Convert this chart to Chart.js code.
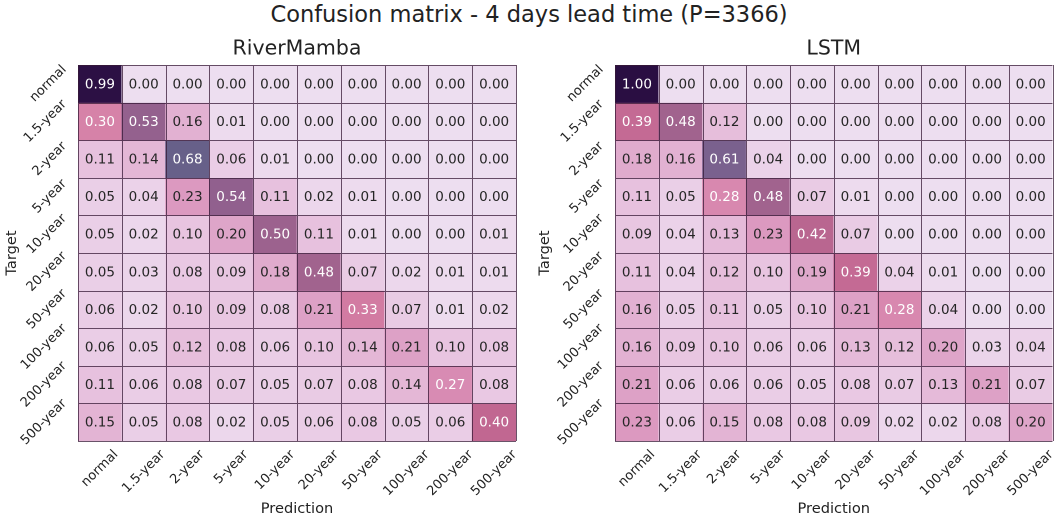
<!DOCTYPE html>
<html>
<head>
<meta charset="utf-8">
<script src="https://cdn.jsdelivr.net/npm/chart.js@4/dist/chart.umd.min.js"></script>
<style>
  html, body { margin: 0; padding: 0; background: #fff; }
  body { width: 1058px; height: 520px; position: relative; overflow: hidden; font-family: 'DejaVu Sans', sans-serif; }
  .suptitle { position: absolute; left: 0; top: 1px; width: 1058px; text-align: center; font-size: 22.5px; color: #222; }
  .panel { position: absolute; top: 0; width: 529px; height: 520px; }
</style>
</head>
<body>
<div class="suptitle">Confusion matrix - 4 days lead time (P=3366)</div>
<div class="panel" style="left:0"><canvas id="left"></canvas></div>
<div class="panel" style="left:529px"><canvas id="right"></canvas></div>
<script>
const classLabels = ['normal', '1.5-year', '2-year', '5-year', '10-year', '20-year', '50-year', '100-year', '200-year', '500-year'];

const riverMambaRows = [
  [0.99, 0.00, 0.00, 0.00, 0.00, 0.00, 0.00, 0.00, 0.00, 0.00],
  [0.30, 0.53, 0.16, 0.01, 0.00, 0.00, 0.00, 0.00, 0.00, 0.00],
  [0.11, 0.14, 0.68, 0.06, 0.01, 0.00, 0.00, 0.00, 0.00, 0.00],
  [0.05, 0.04, 0.23, 0.54, 0.11, 0.02, 0.01, 0.00, 0.00, 0.00],
  [0.05, 0.02, 0.10, 0.20, 0.50, 0.11, 0.01, 0.00, 0.00, 0.01],
  [0.05, 0.03, 0.08, 0.09, 0.18, 0.48, 0.07, 0.02, 0.01, 0.01],
  [0.06, 0.02, 0.10, 0.09, 0.08, 0.21, 0.33, 0.07, 0.01, 0.02],
  [0.06, 0.05, 0.12, 0.08, 0.06, 0.10, 0.14, 0.21, 0.10, 0.08],
  [0.11, 0.06, 0.08, 0.07, 0.05, 0.07, 0.08, 0.14, 0.27, 0.08],
  [0.15, 0.05, 0.08, 0.02, 0.05, 0.06, 0.08, 0.05, 0.06, 0.40]
];

const lstmRows = [
  [1.00, 0.00, 0.00, 0.00, 0.00, 0.00, 0.00, 0.00, 0.00, 0.00],
  [0.39, 0.48, 0.12, 0.00, 0.00, 0.00, 0.00, 0.00, 0.00, 0.00],
  [0.18, 0.16, 0.61, 0.04, 0.00, 0.00, 0.00, 0.00, 0.00, 0.00],
  [0.11, 0.05, 0.28, 0.48, 0.07, 0.01, 0.00, 0.00, 0.00, 0.00],
  [0.09, 0.04, 0.13, 0.23, 0.42, 0.07, 0.00, 0.00, 0.00, 0.00],
  [0.11, 0.04, 0.12, 0.10, 0.19, 0.39, 0.04, 0.01, 0.00, 0.00],
  [0.16, 0.05, 0.11, 0.05, 0.10, 0.21, 0.28, 0.04, 0.00, 0.00],
  [0.16, 0.09, 0.10, 0.06, 0.06, 0.13, 0.12, 0.20, 0.03, 0.04],
  [0.21, 0.06, 0.06, 0.06, 0.05, 0.08, 0.07, 0.13, 0.21, 0.07],
  [0.23, 0.06, 0.15, 0.08, 0.08, 0.09, 0.02, 0.02, 0.08, 0.20]
];

// colour ramp picked off the reference cells
const colorStops = [
  [0.00, [237, 222, 240]],
  [0.02, [236, 215, 236]],
  [0.05, [234, 207, 231]],
  [0.10, [232, 196, 224]],
  [0.15, [227, 180, 212]],
  [0.20, [222, 165, 201]],
  [0.25, [218, 145, 186]],
  [0.30, [214, 130, 168]],
  [0.35, [208, 118, 158]],
  [0.40, [193, 103, 145]],
  [0.48, [161, 99, 142]],
  [0.54, [145, 96, 142]],
  [0.61, [122, 97, 142]],
  [0.68, [103, 96, 137]],
  [0.80, [80, 60, 115]],
  [1.00, [42, 14, 66]]
];

const cellColor = value => {
  for (let i = 1; i < colorStops.length; i++) {
    const [v1, c1] = colorStops[i];
    const [v0, c0] = colorStops[i - 1];
    if (value <= v1) {
      const t = (value - v0) / (v1 - v0);
      const rgb = c0.map((c, k) => Math.round(c + (c1[k] - c) * t));
      return `rgb(${rgb.join(',')})`;
    }
  }
  return 'rgb(42,14,66)';
};

const FONT = "'DejaVu Sans', sans-serif";

const heatmapPlugin = {
  id: 'heatmapText',
  afterDatasetsDraw(chart, args, opts) {
    const { ctx, chartArea, scales } = chart;
    const x = scales.x;
    const y = scales.y;
    const rows = opts.rows;
    const half = (x.getPixelForValue(1) - x.getPixelForValue(0)) / 2;

    ctx.save();

    // cell borders
    ctx.strokeStyle = 'rgba(55, 25, 55, 0.75)';
    ctx.lineWidth = 1;
    ctx.beginPath();
    for (let i = 0; i <= classLabels.length; i++) {
      const px = Math.round(x.getPixelForValue(i) - half) + 0.5;
      const py = Math.round(y.getPixelForValue(i)) + 0.5;
      ctx.moveTo(px, chartArea.top);
      ctx.lineTo(px, chartArea.bottom);
      ctx.moveTo(chartArea.left, py);
      ctx.lineTo(chartArea.right, py);
    }
    ctx.stroke();

    // values
    ctx.font = `13.5px ${FONT}`;
    ctx.textAlign = 'center';
    ctx.textBaseline = 'middle';
    rows.forEach((row, r) => {
      row.forEach((value, c) => {
        ctx.fillStyle = value > 0.25 ? '#ffffff' : '#262626';
        ctx.fillText(value.toFixed(2), x.getPixelForValue(c), y.getPixelForValue(r + 0.5) + 1);
      });
    });

    // rotated tick labels, matplotlib style (bbox centred / right aligned)
    ctx.font = `13px ${FONT}`;
    ctx.fillStyle = '#222';
    const textH = 10;
    const cos45 = Math.SQRT1_2;
    classLabels.forEach((label, i) => {
      const w = ctx.measureText(label).width;
      const box = (w + textH) * cos45;

      ctx.save();
      ctx.translate(x.getPixelForValue(i), chartArea.bottom + 8 + box / 2);
      ctx.rotate(-Math.PI / 4);
      ctx.fillText(label, 0, 0);
      ctx.restore();

      ctx.save();
      ctx.translate(chartArea.left - 10 - box / 2, y.getPixelForValue(i + 0.5));
      ctx.rotate(-Math.PI / 4);
      ctx.fillText(label, 0, 0);
      ctx.restore();
    });

    // axis titles
    const midX = (chartArea.left + chartArea.right) / 2;
    const midY = (chartArea.top + chartArea.bottom) / 2;
    ctx.font = `14.6px ${FONT}`;
    ctx.fillText('Prediction', midX, chartArea.bottom + 68);
    ctx.save();
    ctx.translate(opts.targetX, midY);
    ctx.rotate(-Math.PI / 2);
    ctx.fillText('Target', 0, 0);
    ctx.restore();

    // panel title
    ctx.font = `20.5px ${FONT}`;
    ctx.fillText(opts.title, midX, chartArea.top - 16);

    ctx.restore();
  }
};

const buildHeatmap = (canvasId, title, rows, padding, targetX) => {
  const datasets = rows.map((row, r) => ({
    data: row.map(() => [r, r + 1]),
    backgroundColor: row.map(cellColor),
    borderWidth: 0,
    barPercentage: 1,
    categoryPercentage: 1,
    grouped: false
  }));

  return new Chart(document.getElementById(canvasId), {
    type: 'bar',
    data: { labels: classLabels, datasets },
    options: {
      responsive: false,
      animation: false,
      devicePixelRatio: 2,
      layout: { padding },
      plugins: {
        legend: { display: false },
        tooltip: { enabled: false },
        heatmapText: { rows, title, targetX }
      },
      scales: {
        x: { type: 'category', display: false, offset: true },
        y: { type: 'linear', display: false, min: 0, max: 10, reverse: true }
      }
    },
    plugins: [heatmapPlugin]
  });
};

for (const id of ['left', 'right']) {
  const canvas = document.getElementById(id);
  canvas.width = 529;
  canvas.height = 520;
  canvas.style.width = '529px';
  canvas.style.height = '520px';
}

buildHeatmap('left', 'RiverMamba', riverMambaRows, { left: 78, top: 65, right: 13, bottom: 79 }, 12);
buildHeatmap('right', 'LSTM', lstmRows, { left: 86, top: 65, right: 5.5, bottom: 79 }, 16);
</script>
</body>
</html>
